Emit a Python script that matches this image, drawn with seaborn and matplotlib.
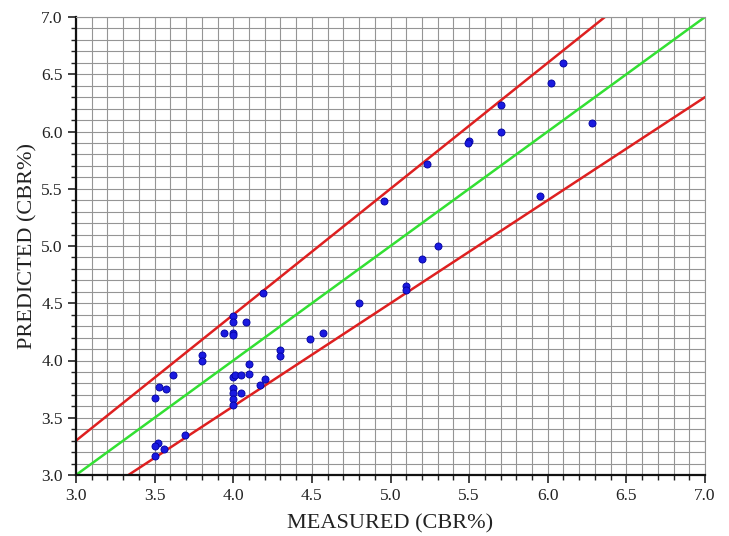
import matplotlib
matplotlib.use("Agg")
import matplotlib.pyplot as plt
import seaborn as sns
import numpy as np
import pandas as pd
from matplotlib.ticker import MultipleLocator, FormatStrFormatter

measured = [6.10, 6.02, 5.70, 6.28, 5.70, 5.50, 5.49, 5.23, 5.95, 4.96, 5.30, 5.20,
            5.10, 5.10, 4.80, 4.57, 4.49, 4.30, 4.30, 4.19, 4.00, 4.00, 4.08, 3.94,
            4.00, 4.00, 3.80, 3.80, 4.10, 3.62, 4.00, 4.01, 4.05, 4.10, 4.20, 4.17,
            3.53, 3.57, 4.00, 4.00, 4.05, 4.00, 4.00, 3.50, 3.69, 3.52, 3.50, 3.56, 3.50]
predicted = [6.60, 6.42, 6.23, 6.07, 6.00, 5.92, 5.90, 5.72, 5.44, 5.39, 5.00, 4.89,
             4.65, 4.62, 4.50, 4.24, 4.19, 4.09, 4.04, 4.59, 4.39, 4.34, 4.34, 4.24,
             4.24, 4.22, 4.05, 4.00, 3.97, 3.87, 3.86, 3.87, 3.87, 3.88, 3.84, 3.79,
             3.77, 3.75, 3.76, 3.72, 3.72, 3.66, 3.61, 3.67, 3.35, 3.28, 3.25, 3.23, 3.17]

line_x = [3.0, 7.0]
upper_factor = 1.1
lower_factor = 0.9

sns.set_theme(style="white")
plt.rcParams['font.family'] = ['Liberation Serif', 'DejaVu Serif']

fig = plt.figure(figsize=(7.29, 5.36), dpi=100)
ax = fig.add_axes([76/729, 61/536, 629/729, 458/536])

ax.xaxis.set_major_locator(MultipleLocator(0.5))
ax.xaxis.set_minor_locator(MultipleLocator(0.1))
ax.yaxis.set_major_locator(MultipleLocator(0.5))
ax.yaxis.set_minor_locator(MultipleLocator(0.1))
ax.grid(which='both', color='#959595', linewidth=0.8)
ax.set_axisbelow(True)

lx = np.array(line_x)
sns.lineplot(x=lx, y=lx * upper_factor, ax=ax, color='#de2020', linewidth=1.8)
sns.lineplot(x=lx, y=lx, ax=ax, color='#33e033', linewidth=1.8)
sns.lineplot(x=lx, y=lx * lower_factor, ax=ax, color='#de2020', linewidth=1.8)

df = pd.DataFrame({'measured': measured, 'predicted': predicted})
sns.scatterplot(data=df, x='measured', y='predicted', ax=ax, color='#1a1ae0',
                edgecolor='#0000a0', linewidth=0.6, s=26, zorder=5)

ax.set_xlim(3.0, 7.0)
ax.set_ylim(3.0, 7.0)
ax.set_xlabel('MEASURED (CBR%)', fontsize=16, color='#222222')
ax.set_ylabel('PREDICTED (CBR%)', fontsize=16, color='#222222')
ax.xaxis.labelpad = 7
ax.yaxis.labelpad = 3

ax.tick_params(which='major', direction='out', length=6, width=1.2, colors='#222222',
               labelsize=12.5, bottom=True, left=True)
ax.tick_params(which='minor', direction='out', length=3.5, width=1.0, colors='#222222',
               bottom=True, left=True)
ax.xaxis.set_major_formatter(FormatStrFormatter('%.1f'))
ax.yaxis.set_major_formatter(FormatStrFormatter('%.1f'))

for side in ['bottom', 'left']:
    ax.spines[side].set_color('#111111')
    ax.spines[side].set_linewidth(1.6)
for side in ['top', 'right']:
    ax.spines[side].set_color('#959595')
    ax.spines[side].set_linewidth(0.8)

fig.savefig('out.png', dpi=100)
